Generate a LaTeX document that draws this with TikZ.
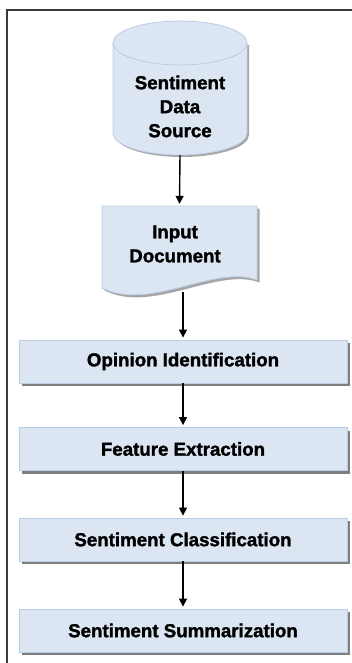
\documentclass[tikz,border=0pt]{standalone}
\usepackage{fontspec}
\setmainfont[BoldFeatures={FakeBold=1.6}]{Liberation Sans}
\usetikzlibrary{arrows.meta,shadows}
\definecolor{boxfill}{HTML}{DCE6F2}
\definecolor{boxline}{HTML}{B9CDE5}
\definecolor{shadowgray}{HTML}{7F7F7F}
\definecolor{softshadow}{HTML}{A6A6A6}
\definecolor{framegray}{HTML}{3A3A3A}
\tikzset{
  lbl/.style={font=\fontsize{18.7}{24}\selectfont\bfseries, align=center, text=black, inner sep=0pt},
  stepbox/.style={rectangle, fill=boxfill, draw=boxline, line width=0.8pt,
    minimum width=328pt, minimum height=43pt, inner sep=0pt,
    lbl, drop shadow={shadow xshift=3pt, shadow yshift=-3pt, fill=shadowgray, opacity=1}},
  flow/.style={line width=1.4pt, -{Triangle[length=8pt,width=8pt]}},
  ghost/.style={rectangle, inner sep=0pt, draw=none}
}
\begin{document}
\begin{tikzpicture}[x=1pt,y=-1pt]
\useasboundingbox (0,0) rectangle (352,663);
\fill[white] (0,0) rectangle (352,663);
% frame
\draw[framegray, line width=1.5pt] (7,670) -- (7,10) -- (360,10);

% cylinder shadow
\fill[softshadow, xshift=2pt, yshift=-2pt] (113,43) -- (113,133) arc[start angle=180, end angle=360, x radius=67pt, y radius=22pt] -- (247,43) -- cycle;
% cylinder
\filldraw[fill=boxfill, draw=boxline, line width=0.8pt] (113,43) -- (113,133) arc[start angle=180, end angle=360, x radius=67pt, y radius=22pt] -- (247,43) arc[start angle=0, end angle=180, x radius=67pt, y radius=22pt] -- cycle;
\draw[boxline, line width=0.8pt] (113,43) arc[start angle=180, end angle=360, x radius=67pt, y radius=22pt];
\node[ghost, minimum width=134pt, minimum height=134pt] (srcshape) at (180,88) {};
\node[lbl] (src) at (180,106.5) {Sentiment\\Data\\Source};

% document shadow
\fill[softshadow, xshift=2.5pt, yshift=-2.5pt] (102,206) -- (257,206) -- (257,280) .. controls (215,264) and (150,312) .. (102,288) -- cycle;
% document
\filldraw[fill=boxfill, draw=boxline, line width=0.8pt] (102,206) -- (257,206) -- (257,280) .. controls (215,264) and (150,312) .. (102,288) -- cycle;
\node[ghost, minimum width=155pt, minimum height=84pt] (docshape) at (179.5,248) {};
\node[lbl] (doc) at (175,244) {Input\\Document};
\coordinate (docb) at (183,292);

% process boxes
\node[stepbox] (op) at (183,361.5) {Opinion Identification};
\node[stepbox] (fe) at (183,449) {Feature Extraction};
\node[stepbox] (sc) at (183,539.5) {Sentiment Classification};
\node[stepbox] (ss) at (183,630.5) {Sentiment Summarization};

% connectors
\draw[flow] (srcshape.south) -- ([yshift=2pt]docshape.north);
\draw[flow] (docb) -- ([yshift=2pt]op.north);
\draw[flow] (op.south) -- ([yshift=2pt]fe.north);
\draw[flow] (fe.south) -- ([yshift=2pt]sc.north);
\draw[flow] (sc.south) -- ([yshift=2pt]ss.north);
\end{tikzpicture}
\end{document}
